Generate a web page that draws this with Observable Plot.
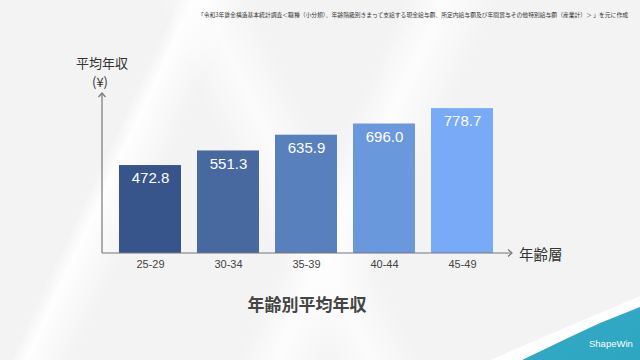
<!DOCTYPE html>
<html><head><meta charset="utf-8">
<script src="https://cdn.jsdelivr.net/npm/d3@7"></script>
<script src="https://cdn.jsdelivr.net/npm/@observablehq/plot@0.6"></script>
<style>
html,body{margin:0;padding:0;}
body{width:640px;height:360px;overflow:hidden;position:relative;
 font-family:"Liberation Sans","Noto Sans CJK JP",sans-serif;
 background:
  linear-gradient(115deg, rgba(255,255,255,0) 0%, rgba(255,255,255,0) 22%, rgba(255,255,255,0.9) 24%, rgba(255,255,255,0) 30%, rgba(255,255,255,0) 50%, rgba(255,255,255,0.8) 55%, rgba(255,255,255,0) 62%, rgba(255,255,255,0) 100%),
  linear-gradient(65deg, rgba(255,255,255,0) 40%, rgba(255,255,255,0.7) 46%, rgba(255,255,255,0) 52%),
  #f3f3f3;}
#chart{position:absolute;left:0;top:0;}
.lbl{position:absolute;color:#333;white-space:nowrap;font-family:"Noto Sans CJK JP",sans-serif;}
#wave2{position:absolute;left:0;top:0;width:640px;height:360px;
 background:rgba(255,255,255,0.9);
 clip-path:polygon(490px 360px, 560px 330px, 640px 296px, 640px 360px);}
#wave{position:absolute;left:0;top:0;width:640px;height:360px;
 background:linear-gradient(160deg,#4cc2d5 0%,#2ea6c2 100%);
 clip-path:polygon(522px 360px, 545px 349px, 570px 337px, 600px 323px, 640px 307px, 640px 360px);}
#logo{position:absolute;left:589px;top:338px;color:#fff;font-size:9.5px;font-family:"Liberation Sans",sans-serif;}
</style></head>
<body>
<div id="wave2"></div>
<div id="wave"></div>
<div id="logo">ShapeWin</div>
<div id="chart"></div>
<div class="lbl" style="right:12px;top:10px;font-size:5.8px;color:#333;">「令和3年賃金構造基本統計調査＜職種（小分類）、年齢階級別きまって支給する現金給与額、所定内給与額及び年間賞与その他特別給与額（産業計）＞ 」を元に作成</div>
<div class="lbl" style="left:76px;top:53px;font-size:13px;">平均年収</div>
<div class="lbl" style="left:92px;top:72px;font-size:13px;">(¥)</div>
<div class="lbl" style="left:519px;top:243px;font-size:14.5px;">年齢層</div>
<div class="lbl" style="left:0;width:614px;text-align:center;top:291px;font-size:17px;font-weight:bold;color:#444;">年齢別平均年収</div>
<script>
const ages = ["25-29","30-34","35-39","40-44","45-49"];
const incomes = [472.8, 551.3, 635.9, 696.0, 778.7];
const barColors = ["#37558a","#47699f","#5880bd","#6a98dd","#79aaf7"];
const data = ages.map((a,i)=>({age:a, value:incomes[i]}));

const plot = Plot.plot({
  width:640, height:360,
  marginLeft:102, marginRight:130, marginTop:93, marginBottom:107,
  style:{background:"transparent", fontSize:"11px", fontFamily:"Liberation Sans, sans-serif", color:"#444"},
  x:{domain:ages, padding:0.2, tickSize:0, tickPadding:7, label:null},
  y:{domain:[0,860], axis:null},
  color:{domain:ages, range:barColors},
  marks:[
    Plot.barY(data,{x:"age", y:"value", fill:"age"}),
    Plot.text(data,{x:"age", y:"value", text:d=>d.value.toFixed(1), dy:13, fill:"white", fontSize:15})
  ]
});
document.getElementById("chart").appendChild(plot);

const sx = plot.scale("x"), sy = plot.scale("y");
const x0 = Math.min(...sx.range), x1 = Math.max(...sx.range);
const yb = sy.apply(0), yt = sy.apply(sy.domain[1]);
const svg = d3.select(plot);
const g = svg.append("g").attr("stroke","#777").attr("fill","none").attr("stroke-width",1.2);
g.append("line").attr("x1",x0).attr("y1",yb).attr("x2",x0).attr("y2",yt);
g.append("path").attr("d",`M${x0-3.5},${yt+4}L${x0},${yt}L${x0+3.5},${yt+4}`);
g.append("line").attr("x1",x0).attr("y1",yb).attr("x2",x1+2).attr("y2",yb);
g.append("path").attr("d",`M${x1-2},${yb-3.5}L${x1+2},${yb}L${x1-2},${yb+3.5}`);
</script>
</body></html>
